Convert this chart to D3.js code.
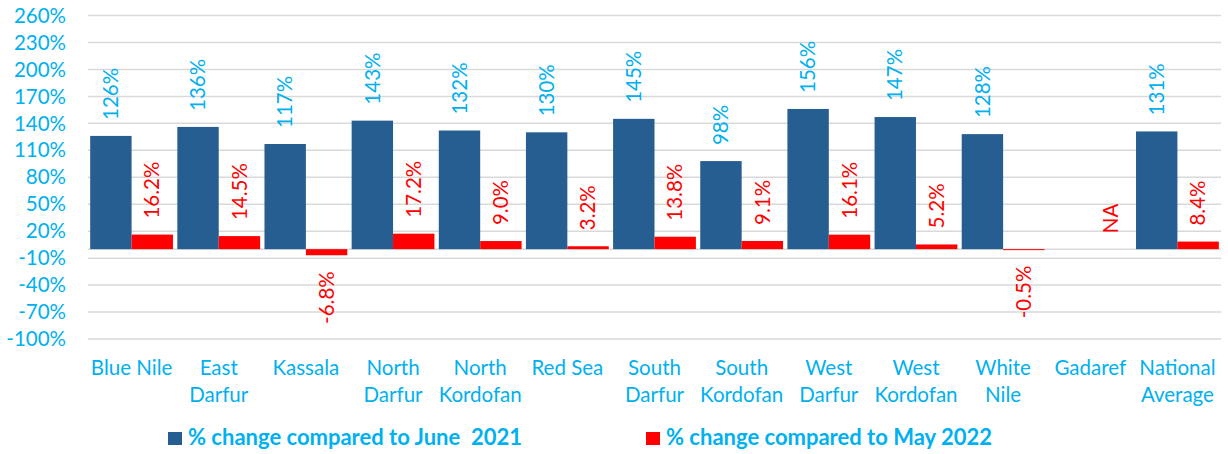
<!DOCTYPE html>
<html>
<head>
<meta charset="utf-8">
<script src="https://cdn.jsdelivr.net/npm/d3@7/dist/d3.min.js"></script>
<style>
  body { margin: 0; background: #fff; }
  svg { display: block; font-family: Lato, "Open Sans", sans-serif; }
</style>
</head>
<body>
<script>
'use strict';

// states / regions on the x axis
const categories = ["Blue Nile", "East Darfur", "Kassala", "North Darfur", "North Kordofan",
  "Red Sea", "South Darfur", "South Kordofan", "West Darfur", "West Kordofan",
  "White Nile", "Gadaref", "National Average"];
const tickLabels = ["Blue Nile", "East\nDarfur", "Kassala", "North\nDarfur", "North\nKordofan",
  "Red Sea", "South\nDarfur", "South\nKordofan", "West\nDarfur", "West\nKordofan",
  "White\nNile", "Gadaref", "National\nAverage"];

// % change compared to June 2021
const changeJune2021 = [126, 136, 117, 143, 132, 130, 145, 98, 156, 147, 128, null, 131];
// % change compared to May 2022 (null = NA)
const changeMay2022 = [16.2, 14.5, -6.8, 17.2, 9.0, 3.2, 13.8, 9.1, 16.1, 5.2, -0.5, null, 8.4];

const yTicks = [-100, -70, -40, -10, 20, 50, 80, 110, 140, 170, 200, 230, 260];
const seriesNames = ["% change compared to June  2021", "% change compared to May 2022"];

const W = 1228, H = 454;
const textBlue = "#00B0F0";
const barColors = ["#265E91", "#FF0000"];
const fontSize = "20.5px";

const svg = d3.select("body").append("svg")
  .attr("width", W).attr("height", H);

const x = d3.scaleBand()
  .domain(categories)
  .range([88, 1221])
  .paddingInner(0.05)
  .paddingOuter(0.025);

const xSub = d3.scaleBand()
  .domain([0, 1])
  .range([0, x.bandwidth()]);

const y = d3.scaleLinear()
  .domain([-100, 260])
  .range([339, 15.5]);

// gridlines + zero line
svg.append("g")
  .selectAll("line")
  .data(yTicks.concat([0]))
  .join("line")
    .attr("x1", 88).attr("x2", 1221)
    .attr("y1", d => y(d)).attr("y2", d => y(d))
    .attr("stroke", "#D9D9D9")
    .attr("stroke-width", 1.5);

// y axis labels
svg.append("g")
  .selectAll("text")
  .data(yTicks)
  .join("text")
    .attr("x", 66)
    .attr("y", d => y(d))
    .attr("dy", "0.35em")
    .attr("text-anchor", "end")
    .attr("fill", textBlue)
    .style("font-size", fontSize)
    .text(d => d + "%");

// bars
const rows = categories.map((c, i) => ({ cat: c, vals: [changeJune2021[i], changeMay2022[i]] }));

const groups = svg.append("g")
  .selectAll("g")
  .data(rows)
  .join("g")
    .attr("transform", d => `translate(${x(d.cat)},0)`);

groups.selectAll("rect")
  .data(d => d.vals.map((v, k) => ({ v, k })).filter(e => e.v !== null))
  .join("rect")
    .attr("x", e => xSub(e.k))
    .attr("width", xSub.bandwidth())
    .attr("y", e => y(Math.max(0, e.v)))
    .attr("height", e => Math.max(1, Math.abs(y(e.v) - y(0))))
    .attr("fill", e => barColors[e.k]);

// data labels, rotated
groups.selectAll("text")
  .data(d => d.vals.map((v, k) => ({ v, k })))
  .join("text")
    .filter(e => !(e.v === null && e.k === 0))
    .attr("transform", e => {
      const cx = xSub(e.k) + xSub.bandwidth() / 2;
      const v = e.v === null ? 0 : e.v;
      const py = v >= 0 ? y(v) - 16 : y(v) + 16;
      return `translate(${cx},${py}) rotate(-90)`;
    })
    .attr("text-anchor", e => (e.v !== null && e.v < 0) ? "end" : "start")
    .attr("dy", "0.35em")
    .attr("fill", e => e.k === 0 ? textBlue : barColors[1])
    .style("font-size", fontSize)
    .text(e => e.v === null ? "NA" : (e.k === 0 ? e.v + "%" : e.v.toFixed(1) + "%"));

// x labels
const xl = svg.append("g")
  .selectAll("text")
  .data(categories)
  .join("text")
    .attr("x", d => x(d) + x.bandwidth() / 2)
    .attr("y", 375)
    .attr("text-anchor", "middle")
    .attr("fill", textBlue)
    .style("font-size", fontSize);

xl.selectAll("tspan")
  .data((d, i) => tickLabels[i].split("\n"))
  .join("tspan")
    .attr("x", function() { return d3.select(this.parentNode).attr("x"); })
    .attr("dy", (d, i) => i === 0 ? 0 : 27)
    .text(d => d);

// legend
const legendX = [168, 646];
const legend = svg.append("g")
  .selectAll("g")
  .data(seriesNames)
  .join("g")
    .attr("transform", (d, i) => `translate(${legendX[i]},432)`);

legend.append("rect")
  .attr("width", 14).attr("height", 13)
  .attr("fill", (d, i) => barColors[i]);

legend.append("text")
  .attr("x", 20)
  .attr("y", 13)
  .attr("fill", textBlue)
  .style("font-size", "22px")
  .style("font-weight", "bold")
  .style("white-space", "pre")
  .attr("xml:space", "preserve")
  .text(d => d);
</script>
</body>
</html>
